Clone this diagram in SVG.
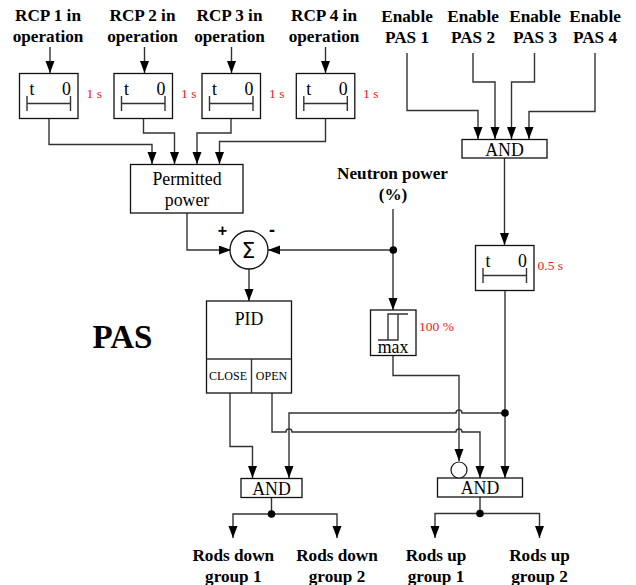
<svg xmlns="http://www.w3.org/2000/svg" width="636" height="585" viewBox="0 0 636 585">
<style>
text{font-family:"Liberation Serif","Times New Roman",serif;fill:#000;text-anchor:middle}
.b{font-weight:bold;font-size:17.2px}
.n{font-size:17.8px}
.r{font-size:13.5px;fill:#f01818;text-anchor:start}
.s{font-size:12px}
.box{fill:#fff;stroke:#111;stroke-width:1.3}
.l{fill:none;stroke:#333;stroke-width:1.4}
.a{marker-end:url(#ah)}
</style>
<defs>
<marker id="ah" markerUnits="userSpaceOnUse" markerWidth="13" markerHeight="10" refX="12" refY="4.500" orient="auto"><path d="M0 0L12 4.500L0 9Z" fill="#000"/></marker>
<g id="timer"><rect class="box" width="58.500" height="45"/><path class="l" d="M7.500 22.500V37.500M51 22.500V37.500M7.500 30H51"/><text x="12.500" y="21" class="n">t</text><text x="47" y="21" class="n">0</text></g>
</defs>
<rect width="636" height="585" fill="#fff"/>
<g id="connectors">
<path class="l a" d="M50 47V73"/>
<path class="l a" d="M144.500 47V73"/>
<path class="l a" d="M231.500 47V73"/>
<path class="l a" d="M325.500 47V73"/>
<path class="l a" d="M49 118V144.500H152V164"/>
<path class="l a" d="M143.500 118V133H174.500V164"/>
<path class="l a" d="M231 118V133H197V164"/>
<path class="l a" d="M325.500 118V141.500H219.500V164"/>
<path class="l a" d="M407 53V110.500H478V139"/>
<path class="l a" d="M473 53V82H495V139"/>
<path class="l a" d="M534.500 53V82H511.500V139"/>
<path class="l a" d="M595 53V111.500H529V139"/>
<path class="l a" d="M504.500 158V245"/>
<path class="l a" d="M187 213V250H231"/>
<path class="l a" d="M393 250H268"/>
<path class="l" d="M393 209V250"/>
<path class="l a" d="M393 250V310"/>
<path class="l a" d="M249 269V301"/>
<path class="l a" d="M505 290V478"/>
<path class="l a" d="M505 413H462A3 3 0 0 0 456 413H289V478"/>
<path class="l a" d="M393 355.500V375.500H459V461"/>
<path class="l a" d="M272 393V432H286A3 3 0 0 1 292 432H456A3 3 0 0 1 462 432H480V478"/>
<path class="l a" d="M230 393V446.500H252.500V478"/>
<path class="l a" d="M271.500 514H233V538"/>
<path class="l a" d="M271.500 514H337V538"/>
<path class="l" d="M271.500 497V514"/>
<path class="l a" d="M480 513.500H435V538"/>
<path class="l a" d="M480 513.500H539.500V538"/>
<path class="l" d="M480 497V513.500"/>
<circle cx="393.300" cy="250" r="3.800" fill="#000"/>
<circle cx="505" cy="413" r="3.800" fill="#000"/>
<circle cx="271.500" cy="514" r="3.800" fill="#000"/>
<circle cx="480" cy="513.500" r="3.800" fill="#000"/>
</g>
<g id="label-rcp"><text class="b" x="48" y="21">RCP 1 in</text><text class="b" x="48" y="42">operation</text>
<text class="b" x="142.500" y="21">RCP 2 in</text><text class="b" x="142.500" y="42">operation</text>
<text class="b" x="229.500" y="21">RCP 3 in</text><text class="b" x="229.500" y="42">operation</text>
<text class="b" x="324" y="21">RCP 4 in</text><text class="b" x="324" y="42">operation</text></g>
<g id="label-enable"><text class="b" x="407" y="22">Enable</text><text class="b" x="407" y="42.500">PAS 1</text>
<text class="b" x="473" y="22">Enable</text><text class="b" x="473" y="42.500">PAS 2</text>
<text class="b" x="535" y="22">Enable</text><text class="b" x="535" y="42.500">PAS 3</text>
<text class="b" x="595" y="22">Enable</text><text class="b" x="595" y="42.500">PAS 4</text></g>
<g id="timer1"><use href="#timer" x="19.500" y="73.500"/><text class="r" x="86.500" y="98">1 s</text></g>
<g id="timer2"><use href="#timer" x="114" y="73.500"/><text class="r" x="181" y="98">1 s</text></g>
<g id="timer3"><use href="#timer" x="202" y="73.500"/><text class="r" x="269" y="98">1 s</text></g>
<g id="timer4"><use href="#timer" x="296.300" y="73.500"/><text class="r" x="363" y="98">1 s</text></g>
<g id="timer5"><use href="#timer" x="475.500" y="245.500"/><text class="r" x="537.500" y="270">0.5 s</text></g>
<g id="permitted"><rect class="box" x="130.500" y="164.500" width="112.500" height="48.500"/><text class="n" x="187" y="185">Permitted</text><text class="n" x="187" y="206">power</text></g>
<g id="and1"><rect class="box" x="462" y="139.500" width="85" height="18.500"/><text class="n" x="504.500" y="155.500">AND</text></g>
<g id="neutron"><text class="b" x="392.500" y="179">Neutron power</text><text class="b" x="393" y="200">(%)</text></g>
<g id="sum"><circle cx="249" cy="250" r="19" fill="#fff" stroke="#111" stroke-width="1.300"/><text x="248.500" y="258" style="font-family:'DejaVu Sans',sans-serif;font-size:22px">Σ</text>
<text x="222.500" y="235.500" style="font-family:'Liberation Sans',sans-serif;font-size:16px;font-weight:bold">+</text><text x="272" y="235.500" style="font-family:'Liberation Sans',sans-serif;font-weight:bold;font-size:18px">-</text></g>
<g id="pid"><rect class="box" x="206.500" y="301" width="85" height="92"/><path class="l" d="M206.500 359H291.500M251.500 359V393"/><text class="n" x="249" y="324.500">PID</text><text class="s" x="228" y="380">CLOSE</text><text class="s" x="271.500" y="380">OPEN</text></g>
<g id="max"><rect class="box" x="370.500" y="310" width="45.500" height="45.500"/><path class="l" d="M378 340H398V314M388 340V314H408"/><text class="n" x="393" y="353">max</text><text class="r" x="419" y="331">100 %</text></g>
<g id="pas"><text x="122.500" y="348" style="font-weight:bold;font-size:33px">PAS</text></g>
<g id="and2"><rect class="box" x="241" y="478.500" width="61" height="19"/><text class="n" x="271.500" y="494.500">AND</text></g>
<g id="and3"><rect class="box" x="437.500" y="478" width="85" height="19"/><text class="n" x="480" y="494">AND</text><circle cx="459" cy="470" r="8" fill="#fff" stroke="#111" stroke-width="1.200"/></g>
<g id="outputs"><text class="b" x="233.300" y="561">Rods down</text><text class="b" x="233.300" y="582">group 1</text>
<text class="b" x="337" y="561">Rods down</text><text class="b" x="337" y="582">group 2</text>
<text class="b" x="436" y="561">Rods up</text><text class="b" x="436" y="582">group 1</text>
<text class="b" x="539.500" y="561">Rods up</text><text class="b" x="539.500" y="582">group 2</text></g>
</svg>
